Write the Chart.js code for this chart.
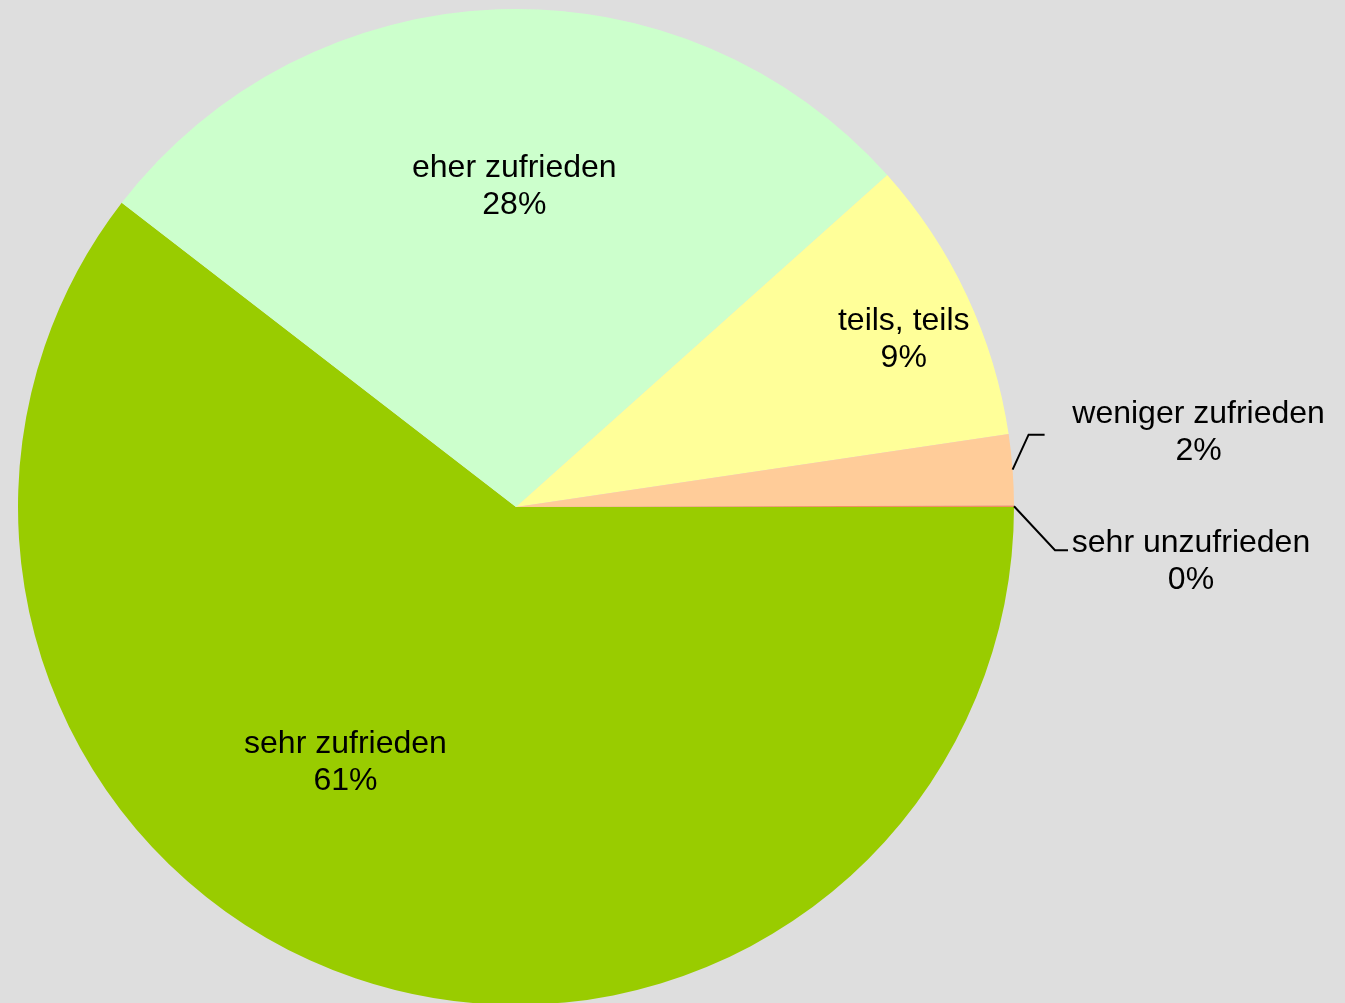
<!DOCTYPE html>
<html>
<head>
<meta charset="utf-8">
<script src="https://cdn.jsdelivr.net/npm/chart.js@4/dist/chart.umd.min.js"></script>
<style>
  html, body { margin: 0; padding: 0; background: #dedede; overflow: hidden; }
  #wrap { position: absolute; left: 0; top: 0; width: 1345px; height: 1013px; }
</style>
</head>
<body>
<div id="wrap"><canvas id="pie"></canvas></div>
<script>
const categories = ["sehr zufrieden", "eher zufrieden", "teils, teils", "weniger zufrieden", "sehr unzufrieden"];
const shares = [60.46, 27.93, 9.27, 2.29, 0.05];
const shareLabels = ["61%", "28%", "9%", "2%", "0%"];
const sliceColors = ["#99cc00", "#ccffcc", "#ffff99", "#ffcc99", "#f09060"];

// where each label goes: inside ones by polar spot, outside ones with a leader line
const labelSpots = [
  { r: 0.614, a: 123.9 },
  { r: 0.646, a: 269.7 },
  { r: 0.849, a: 336.5 },
  { elbow: [16, -35], end: [32, -35], text: [186, -38] },
  { elbow: [41, 44], end: [54, 44], text: [177, 54] },
];

const pieLabels = {
  id: "pieLabels",
  afterDraw(chart) {
    const ctx = chart.ctx;
    const meta = chart.getDatasetMeta(0);
    ctx.save();
    ctx.font = "32px 'Liberation Sans', Arial, sans-serif";
    ctx.fillStyle = "#000";
    ctx.textAlign = "center";
    ctx.textBaseline = "middle";
    meta.data.forEach((arc, i) => {
      const p = arc.getProps(["x", "y", "startAngle", "endAngle", "outerRadius"], true);
      const spot = labelSpots[i];
      let tx, ty;
      if (spot.elbow) {
        const mid = (p.startAngle + p.endAngle) / 2;
        const ax = p.x + Math.cos(mid) * p.outerRadius;
        const ay = p.y + Math.sin(mid) * p.outerRadius;
        ctx.beginPath();
        ctx.strokeStyle = "#000";
        ctx.lineWidth = 2;
        ctx.moveTo(ax, ay);
        ctx.lineTo(ax + spot.elbow[0], ay + spot.elbow[1]);
        ctx.lineTo(ax + spot.end[0], ay + spot.end[1]);
        ctx.stroke();
        tx = ax + spot.text[0];
        ty = ay + spot.text[1];
      } else {
        const ang = spot.a * Math.PI / 180;
        tx = p.x + Math.cos(ang) * p.outerRadius * spot.r;
        ty = p.y + Math.sin(ang) * p.outerRadius * spot.r;
      }
      ctx.fillText(categories[i], tx, ty - 17);
      ctx.fillText(shareLabels[i], tx, ty + 20);
    });
    ctx.restore();
  },
};

new Chart(document.getElementById("pie"), {
  type: "pie",
  data: {
    labels: categories,
    datasets: [
      {
        data: shares,
        backgroundColor: sliceColors,
        borderWidth: 0,
      },
    ],
  },
  options: {
    responsive: true,
    maintainAspectRatio: false,
    animation: false,
    rotation: 90,
    layout: { padding: { left: 18, top: 9, right: 331, bottom: 8 } },
    events: [],
    plugins: {
      legend: { display: false },
      tooltip: { enabled: false },
    },
  },
  plugins: [pieLabels],
});
</script>
</body>
</html>
